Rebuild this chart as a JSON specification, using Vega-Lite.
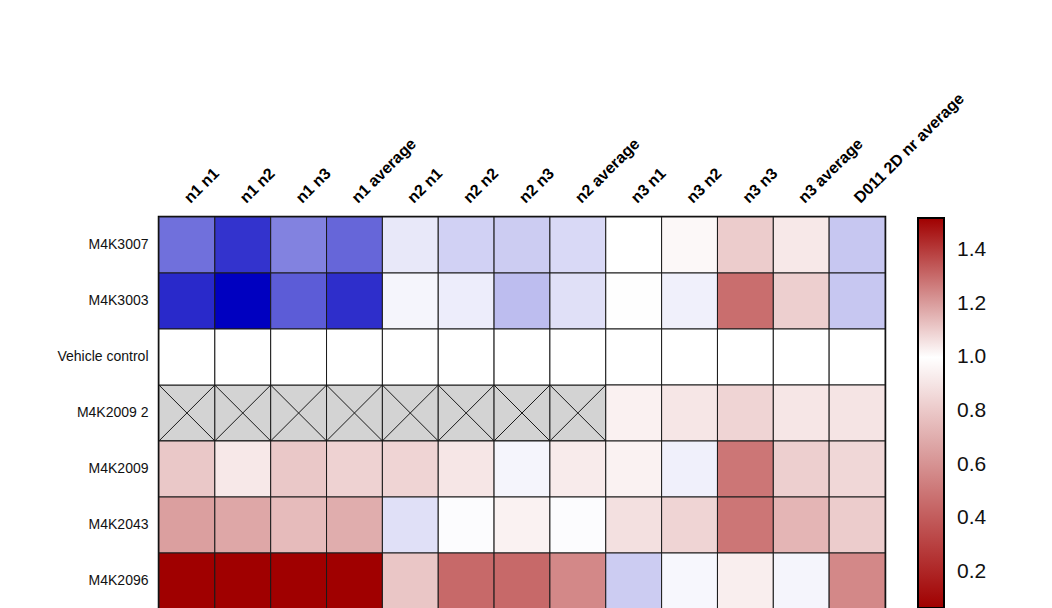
{
  "$schema": "https://vega.github.io/schema/vega-lite/v6.json",
  "width": 726,
  "height": 392,
  "autosize": {"type": "none"},
  "padding": {"left": 159, "top": 217, "right": 167, "bottom": 0},
  "background": "white",
  "config": {
    "view": {"stroke": "black", "strokeWidth": 2.5},
    "font": "Liberation Sans"
  },
  "data": {
    "values": [
      {"r": "M4K3007", "c": "n1 n1", "v": 1.28},
      {"r": "M4K3007", "c": "n1 n2", "v": 1.40},
      {"r": "M4K3007", "c": "n1 n3", "v": 1.245},
      {"r": "M4K3007", "c": "n1 average", "v": 1.30},
      {"r": "M4K3007", "c": "n2 n1", "v": 1.045},
      {"r": "M4K3007", "c": "n2 n2", "v": 1.09},
      {"r": "M4K3007", "c": "n2 n3", "v": 1.10},
      {"r": "M4K3007", "c": "n2 average", "v": 1.075},
      {"r": "M4K3007", "c": "n3 n1", "v": 1.0},
      {"r": "M4K3007", "c": "n3 n2", "v": 0.975},
      {"r": "M4K3007", "c": "n3 n3", "v": 0.82},
      {"r": "M4K3007", "c": "n3 average", "v": 0.92},
      {"r": "M4K3007", "c": "D011 2D nr average", "v": 1.11},
      {"r": "M4K3003", "c": "n1 n1", "v": 1.42},
      {"r": "M4K3003", "c": "n1 n2", "v": 1.5},
      {"r": "M4K3003", "c": "n1 n3", "v": 1.32},
      {"r": "M4K3003", "c": "n1 average", "v": 1.41},
      {"r": "M4K3003", "c": "n2 n1", "v": 1.02},
      {"r": "M4K3003", "c": "n2 n2", "v": 1.035},
      {"r": "M4K3003", "c": "n2 n3", "v": 1.13},
      {"r": "M4K3003", "c": "n2 average", "v": 1.06},
      {"r": "M4K3003", "c": "n3 n1", "v": 0.995},
      {"r": "M4K3003", "c": "n3 n2", "v": 1.03},
      {"r": "M4K3003", "c": "n3 n3", "v": 0.487},
      {"r": "M4K3003", "c": "n3 average", "v": 0.83},
      {"r": "M4K3003", "c": "D011 2D nr average", "v": 1.11},
      {"r": "Vehicle control", "c": "n1 n1", "v": 1.0},
      {"r": "Vehicle control", "c": "n1 n2", "v": 1.0},
      {"r": "Vehicle control", "c": "n1 n3", "v": 1.0},
      {"r": "Vehicle control", "c": "n1 average", "v": 1.0},
      {"r": "Vehicle control", "c": "n2 n1", "v": 1.0},
      {"r": "Vehicle control", "c": "n2 n2", "v": 1.0},
      {"r": "Vehicle control", "c": "n2 n3", "v": 1.0},
      {"r": "Vehicle control", "c": "n2 average", "v": 1.0},
      {"r": "Vehicle control", "c": "n3 n1", "v": 1.0},
      {"r": "Vehicle control", "c": "n3 n2", "v": 1.0},
      {"r": "Vehicle control", "c": "n3 n3", "v": 1.0},
      {"r": "Vehicle control", "c": "n3 average", "v": 1.0},
      {"r": "Vehicle control", "c": "D011 2D nr average", "v": 1.0},
      {"r": "M4K2009 2", "c": "n1 n1", "v": null},
      {"r": "M4K2009 2", "c": "n1 n2", "v": null},
      {"r": "M4K2009 2", "c": "n1 n3", "v": null},
      {"r": "M4K2009 2", "c": "n1 average", "v": null},
      {"r": "M4K2009 2", "c": "n2 n1", "v": null},
      {"r": "M4K2009 2", "c": "n2 n2", "v": null},
      {"r": "M4K2009 2", "c": "n2 n3", "v": null},
      {"r": "M4K2009 2", "c": "n2 average", "v": null},
      {"r": "M4K2009 2", "c": "n3 n1", "v": 0.95},
      {"r": "M4K2009 2", "c": "n3 n2", "v": 0.91},
      {"r": "M4K2009 2", "c": "n3 n3", "v": 0.85},
      {"r": "M4K2009 2", "c": "n3 average", "v": 0.91},
      {"r": "M4K2009 2", "c": "D011 2D nr average", "v": 0.905},
      {"r": "M4K2009", "c": "n1 n1", "v": 0.805},
      {"r": "M4K2009", "c": "n1 n2", "v": 0.92},
      {"r": "M4K2009", "c": "n1 n3", "v": 0.805},
      {"r": "M4K2009", "c": "n1 average", "v": 0.84},
      {"r": "M4K2009", "c": "n2 n1", "v": 0.85},
      {"r": "M4K2009", "c": "n2 n2", "v": 0.91},
      {"r": "M4K2009", "c": "n2 n3", "v": 1.02},
      {"r": "M4K2009", "c": "n2 average", "v": 0.93},
      {"r": "M4K2009", "c": "n3 n1", "v": 0.955},
      {"r": "M4K2009", "c": "n3 n2", "v": 1.03},
      {"r": "M4K2009", "c": "n3 n3", "v": 0.515},
      {"r": "M4K2009", "c": "n3 average", "v": 0.83},
      {"r": "M4K2009", "c": "D011 2D nr average", "v": 0.86},
      {"r": "M4K2043", "c": "n1 n1", "v": 0.66},
      {"r": "M4K2043", "c": "n1 n2", "v": 0.69},
      {"r": "M4K2043", "c": "n1 n3", "v": 0.76},
      {"r": "M4K2043", "c": "n1 average", "v": 0.71},
      {"r": "M4K2043", "c": "n2 n1", "v": 1.06},
      {"r": "M4K2043", "c": "n2 n2", "v": 1.005},
      {"r": "M4K2043", "c": "n2 n3", "v": 0.955},
      {"r": "M4K2043", "c": "n2 average", "v": 1.005},
      {"r": "M4K2043", "c": "n3 n1", "v": 0.89},
      {"r": "M4K2043", "c": "n3 n2", "v": 0.85},
      {"r": "M4K2043", "c": "n3 n3", "v": 0.515},
      {"r": "M4K2043", "c": "n3 average", "v": 0.74},
      {"r": "M4K2043", "c": "D011 2D nr average", "v": 0.82},
      {"r": "M4K2096", "c": "n1 n1", "v": 0.1},
      {"r": "M4K2096", "c": "n1 n2", "v": 0.1},
      {"r": "M4K2096", "c": "n1 n3", "v": 0.1},
      {"r": "M4K2096", "c": "n1 average", "v": 0.1},
      {"r": "M4K2096", "c": "n2 n1", "v": 0.80},
      {"r": "M4K2096", "c": "n2 n2", "v": 0.47},
      {"r": "M4K2096", "c": "n2 n3", "v": 0.47},
      {"r": "M4K2096", "c": "n2 average", "v": 0.58},
      {"r": "M4K2096", "c": "n3 n1", "v": 1.10},
      {"r": "M4K2096", "c": "n3 n2", "v": 1.015},
      {"r": "M4K2096", "c": "n3 n3", "v": 0.94},
      {"r": "M4K2096", "c": "n3 average", "v": 1.02},
      {"r": "M4K2096", "c": "D011 2D nr average", "v": 0.58}
    ]
  },
  "encoding": {
    "x": {
      "field": "c",
      "type": "nominal",
      "sort": ["n1 n1", "n1 n2", "n1 n3", "n1 average", "n2 n1", "n2 n2", "n2 n3", "n2 average", "n3 n1", "n3 n2", "n3 n3", "n3 average", "D011 2D nr average"],
      "scale": {"paddingInner": 0, "paddingOuter": 0},
      "axis": {
        "orient": "top",
        "title": null,
        "ticks": false,
        "domain": false,
        "labelAngle": -45,
        "labelAlign": "left",
        "labelBaseline": "middle",
        "labelPadding": 17,
        "labelFont": "Liberation Sans",
        "labelFontSize": 16,
        "labelFontWeight": "bold",
        "labelColor": "black",
        "labelLimit": 400
      }
    },
    "y": {
      "field": "r",
      "type": "nominal",
      "sort": ["M4K3007", "M4K3003", "Vehicle control", "M4K2009 2", "M4K2009", "M4K2043", "M4K2096"],
      "scale": {"paddingInner": 0, "paddingOuter": 0},
      "axis": {
        "title": null,
        "ticks": false,
        "domain": false,
        "labelPadding": 11,
        "labelFont": "Liberation Sans",
        "labelFontSize": 14,
        "labelColor": "#111",
        "labelLimit": 300
      }
    }
  },
  "layer": [
    {
      "mark": {"type": "rect", "fill": "#d3d3d3", "stroke": "#1a1a1a", "strokeWidth": 1}
    },
    {
      "transform": [{"filter": "datum.v != null"}],
      "mark": {"type": "rect", "stroke": "#1a1a1a", "strokeWidth": 1},
      "encoding": {
        "color": {
          "field": "v",
          "type": "quantitative",
          "scale": {"domain": [0.1, 1, 1.5], "range": ["#a00000", "#ffffff", "#0000c0"], "interpolate": "rgb", "clamp": true},
          "legend": null
        }
      }
    },
    {
      "transform": [{"filter": "datum.v == null"}],
      "mark": {"type": "point", "shape": "M-1,-1L1,1M-1,1L1,-1", "filled": false, "stroke": "#1a1a1a", "strokeWidth": 1, "size": 3125, "opacity": 1}
    },
    {
      "transform": [{"filter": "datum.v != null"}],
      "mark": {"type": "point", "opacity": 0, "size": 1},
      "encoding": {
        "color": {
          "field": "v",
          "type": "quantitative",
          "scale": {"domain": [0.066, 1, 1.52], "range": ["#a00000", "#ffffff", "#a00000"], "interpolate": "rgb"},
          "legend": {
            "orient": "none",
            "legendX": 759,
            "legendY": 1,
            "title": null,
            "direction": "vertical",
            "gradientLength": 390,
            "gradientThickness": 26,
            "gradientStrokeColor": "black",
            "gradientStrokeWidth": 2,
            "values": [0.2, 0.4, 0.6, 0.8, 1.0, 1.2, 1.4],
            "format": ".1f",
            "labelFont": "Liberation Sans",
            "labelFontSize": 21,
            "labelColor": "#111",
            "labelOffset": 13,
            "labelOverlap": false,
            "padding": 0
          }
        }
      }
    }
  ],
  "resolve": {"scale": {"color": "independent"}, "legend": {"color": "independent"}}
}
